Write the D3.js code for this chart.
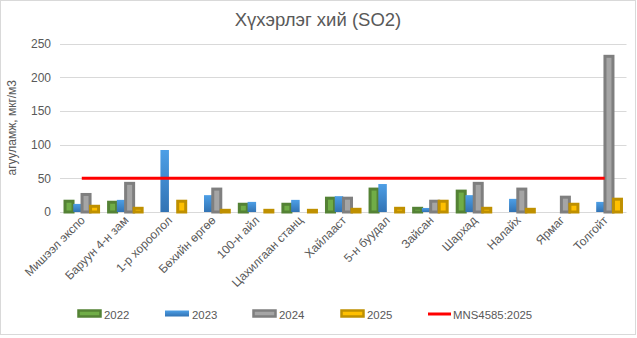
<!DOCTYPE html>
<html><head><meta charset="utf-8">
<script src="https://cdn.jsdelivr.net/npm/d3@7"></script>
<style>body{margin:0;background:#fff;}svg{display:block;font-family:"Liberation Sans",Arial,sans-serif;}</style>
</head><body><svg id="c" width="637" height="338"></svg>
<script>
const categories = ["Мишээл экспо","Баруун 4-н зам","1-р хороолол","Бөхийн өргөө","100-н айл","Цахилгаан станц","Хайлааст","5-н буудал","Зайсан","Шархад","Налайх","Ярмаг","Толгойт"];
const series = ["2022","2023","2024","2025"];
const v2022 = [16,14.5,null,null,11.5,11.5,20.5,34,5.5,31,null,null,null];
const v2023 = [12,18,92,25,15,18,23.5,41.5,6,25,19.5,null,15];
const v2024 = [26,42.5,null,34,null,null,20.5,null,16,42.5,34,22,231];
const v2025 = [8.5,5.5,16,2.5,2.5,2.5,4,5.5,16,5.5,4,11.5,19];
const standardName = "MNS4585:2025";
const standardValue = 50;
const yTicks = [0,50,100,150,200,250];
const title = "Хүхэрлэг хий (SO2)";
const yTitle = "агууламж, мкг/м3";

const values = [v2022,v2023,v2024,v2025];
const styles = [
  {fill:"#70ad47", stroke:"#548235", sw:3},
  {fill:"url(#blueGrad)", stroke:"none", sw:0},
  {fill:"#a5a5a5", stroke:"#7f7f7f", sw:3},
  {fill:"#ffc000", stroke:"#bf9000", sw:3}
];
const textCol = "#595959";

const svg = d3.select("#c");
const defs = svg.append("defs");
const g1 = defs.append("linearGradient").attr("id","blueGrad").attr("x1",0).attr("y1",0).attr("x2",0).attr("y2",1);
g1.append("stop").attr("offset","0%").attr("stop-color","#4d9fe6");
g1.append("stop").attr("offset","100%").attr("stop-color","#3273b4");

svg.append("rect").attr("x",0.5).attr("y",0.5).attr("width",635).attr("height",334)
  .attr("fill","#fff").attr("stroke","#d9d9d9");

const pLeft=60, pRight=626.5, pTop=43.5, pBottom=212;
const y = d3.scaleLinear().domain([0,250]).range([pBottom,pTop]);
const x0 = d3.scaleBand().domain(categories).range([pLeft,pRight]).paddingInner(0).paddingOuter(0);
const x1 = d3.scaleBand().domain(series).range([0,x0.bandwidth()]).paddingInner(0).paddingOuter(0.56);

// gridlines
svg.append("g").selectAll("line").data(yTicks).join("line")
  .attr("x1",pLeft).attr("x2",pRight)
  .attr("y1",d=>Math.round(y(d))+0.5).attr("y2",d=>Math.round(y(d))+0.5)
  .attr("stroke","#d9d9d9").attr("stroke-width",1);

// y axis labels
const yAxis = d3.axisLeft(y).tickValues(yTicks).tickSize(0).tickPadding(0);
const ya = svg.append("g").attr("transform",`translate(51,0)`).call(yAxis);
ya.select(".domain").remove();
ya.selectAll("text").attr("fill",textCol).style("font-size","12px").style("font-family","'Liberation Sans',Arial,sans-serif");

// y title
svg.append("text").attr("transform",`translate(16,${(pTop+pBottom)/2}) rotate(-90)`)
  .attr("text-anchor","middle").attr("fill",textCol).style("font-size","12px").text(yTitle);

// title
svg.append("text").attr("x",318).attr("y",26).attr("text-anchor","middle")
  .attr("fill",textCol).style("font-size","18.5px").text(title);

// bars
series.forEach((s,si)=>{
  const st = styles[si];
  const bw = x1.bandwidth();
  svg.append("g").selectAll("rect")
    .data(categories.map((c,i)=>({c,v:values[si][i]})).filter(d=>d.v!=null))
    .join("rect")
    .attr("x",d=>x0(d.c)+x1(s)+(st.sw?0.25:0))
    .attr("width",bw-(st.sw?0.5:0))
    .attr("y",d=>y(d.v))
    .attr("height",d=>pBottom-y(d.v))
    .attr("fill",st.fill).attr("stroke",st.stroke).attr("stroke-width",st.sw);
});

// standard line
svg.append("line")
  .attr("x1",x0(categories[0])+x0.bandwidth()/2)
  .attr("x2",x0(categories[categories.length-1])+x0.bandwidth()/2)
  .attr("y1",y(standardValue)).attr("y2",y(standardValue))
  .attr("stroke","#ff0000").attr("stroke-width",3);

// x labels
const xAxis = d3.axisBottom(x0).tickSize(0).tickPadding(0);
const xa = svg.append("g").attr("transform",`translate(0,${pBottom})`).call(xAxis);
xa.select(".domain").remove();
xa.selectAll("text")
  .attr("fill",textCol).style("font-size","12px").style("font-family","'Liberation Sans',Arial,sans-serif")
  .attr("text-anchor","end").attr("dy",null).attr("y",0).attr("x",0)
  .attr("transform","translate(4,9) rotate(-45)");

// legend
const legendItems = [
  {label:"2022", x:77, type:0},
  {label:"2023", x:165, type:1},
  {label:"2024", x:252, type:2},
  {label:"2025", x:340, type:3},
  {label:standardName, x:428, type:"line"}
];
const ly = 314;
const lg = svg.append("g");
legendItems.forEach(it=>{
  if(it.type==="line"){
    lg.append("line").attr("x1",it.x).attr("x2",it.x+23).attr("y1",ly).attr("y2",ly)
      .attr("stroke","#ff0000").attr("stroke-width",3);
    lg.append("text").attr("x",it.x+25).attr("y",ly+4.5).attr("fill",textCol).style("font-size","11.4px").text(it.label);
  } else {
    const st = styles[it.type];
    if(st.sw){
      lg.append("rect").attr("x",it.x+1.5).attr("y",ly-3.5).attr("width",22).attr("height",6)
        .attr("fill",st.fill).attr("stroke",st.stroke).attr("stroke-width",2.5);
    } else {
      lg.append("rect").attr("x",it.x).attr("y",ly-3.5).attr("width",24).attr("height",6)
        .attr("fill",st.fill);
    }
    lg.append("text").attr("x",it.x+27).attr("y",ly+4.5).attr("fill",textCol).style("font-size","11.4px").text(it.label);
  }
});
</script></body></html>
